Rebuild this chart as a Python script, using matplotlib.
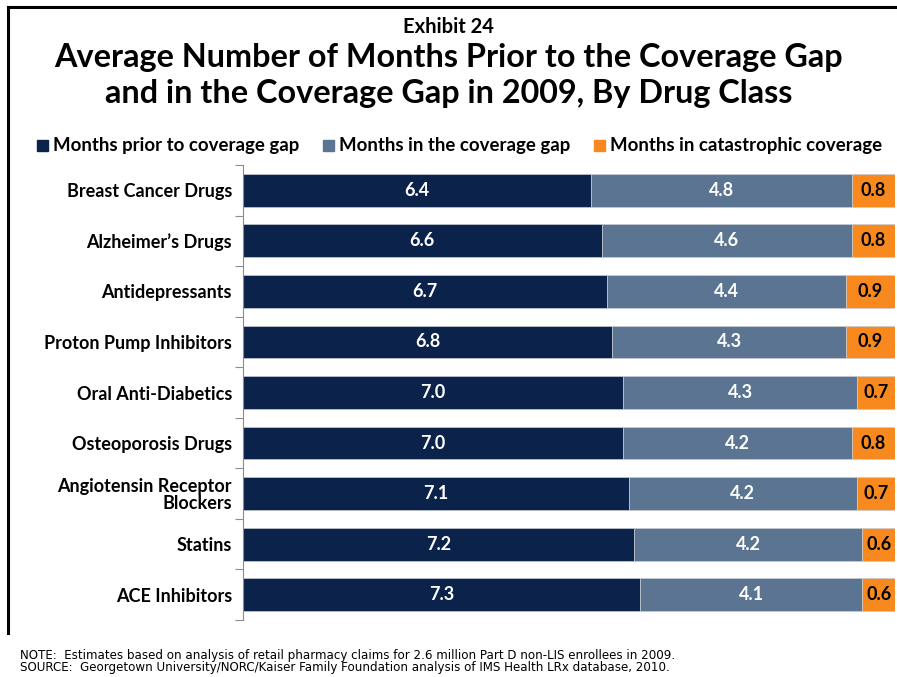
import matplotlib.pyplot as plt
import numpy as np
from matplotlib.lines import Line2D

# Drug classes, top to bottom
drug_classes = [
    "Breast Cancer Drugs",
    "Alzheimer\u2019s Drugs",
    "Antidepressants",
    "Proton Pump Inhibitors",
    "Oral Anti-Diabetics",
    "Osteoporosis Drugs",
    "Angiotensin Receptor\nBlockers",
    "Statins",
    "ACE Inhibitors",
]
months_prior = [6.4, 6.6, 6.7, 6.8, 7.0, 7.0, 7.1, 7.2, 7.3]
months_gap = [4.8, 4.6, 4.4, 4.3, 4.3, 4.2, 4.2, 4.2, 4.1]
months_catastrophic = [0.8, 0.8, 0.9, 0.9, 0.7, 0.8, 0.7, 0.6, 0.6]

series_names = [
    "Months prior to coverage gap",
    "Months in the coverage gap",
    "Months in catastrophic coverage",
]
colors = ["#0B234B", "#5A7491", "#F7891F"]
label_colors = ["white", "white", "black"]

FONT = "Lato"
W, H = 897, 677

fig = plt.figure(figsize=(W / 100, H / 100), dpi=100)


def fx(px):
    return px / W


def fy(py):
    return 1 - py / H


# slide frame (top and left edges)
fig.add_artist(Line2D([fx(8), fx(897)], [fy(7), fy(7)], color="black", lw=2.2))
fig.add_artist(Line2D([fx(8), fx(8)], [fy(7), fy(633)], color="black", lw=2.2))

fig.text(0.5, fy(27), "Exhibit 24", ha="center", va="center",
         fontsize=14.5, fontweight="bold", family=FONT)
fig.text(0.5, fy(58), "Average Number of Months Prior to the Coverage Gap",
         ha="center", va="center", fontsize=23.3, fontweight="bold", family=FONT)
fig.text(0.5, fy(93), "and in the Coverage Gap in 2009, By Drug Class",
         ha="center", va="center", fontsize=23.3, fontweight="bold", family=FONT)

# legend drawn as squares + text
legend_x = [37, 323, 594]
for x0, name, c in zip(legend_x, series_names, colors):
    fig.patches.append(plt.Rectangle((fx(x0), fy(151)), 11 / W, 11 / H,
                                     transform=fig.transFigure, color=c))
    fig.text(fx(x0 + 16), fy(145), name, ha="left", va="center",
             fontsize=13.4, fontweight="bold", family=FONT)

ax = fig.add_axes([fx(243), fy(620), 652 / W, 455 / H])

y = np.arange(len(drug_classes))
left = np.zeros(len(drug_classes))
for vals, c, lc in zip([months_prior, months_gap, months_catastrophic],
                       colors, label_colors):
    vals = np.array(vals)
    bars = ax.barh(y, vals, left=left, height=0.65, color=c,
                   edgecolor="#c8ccd2", linewidth=0.5)
    for b, v in zip(bars, vals):
        ax.text(b.get_x() + b.get_width() / 2, b.get_y() + b.get_height() / 2,
                f"{v:.1f}", ha="center", va="center", color=lc,
                fontsize=13, fontweight="bold", family=FONT)
    left += vals

ax.set_xlim(0, 12)
ax.set_ylim(len(drug_classes) - 0.5, -0.5)
ax.set_yticks(y)
ax.set_yticklabels(drug_classes, fontsize=13, fontweight="bold", family=FONT,
                   ha="right", linespacing=1.0)
ax.tick_params(axis="y", which="major", length=0, pad=8)
ax.set_yticks(np.arange(-0.5, len(drug_classes)), minor=True)
ax.tick_params(axis="y", which="minor", length=6, color="#8c8c8c", width=0.8)
ax.set_xticks([])
for s in ["top", "right", "bottom"]:
    ax.spines[s].set_visible(False)
ax.spines["left"].set_color("#8c8c8c")
ax.spines["left"].set_linewidth(0.8)

fig.text(fx(20), fy(655),
         "NOTE:  Estimates based on analysis of retail pharmacy claims for 2.6 million Part D non-LIS enrollees in 2009.",
         ha="left", va="center", fontsize=8.55, family="Liberation Sans Narrow")
fig.text(fx(20), fy(667),
         "SOURCE:  Georgetown University/NORC/Kaiser Family Foundation analysis of IMS Health LRx database, 2010.",
         ha="left", va="center", fontsize=8.55, family="Liberation Sans Narrow")

fig.savefig("out.png", dpi=100)
